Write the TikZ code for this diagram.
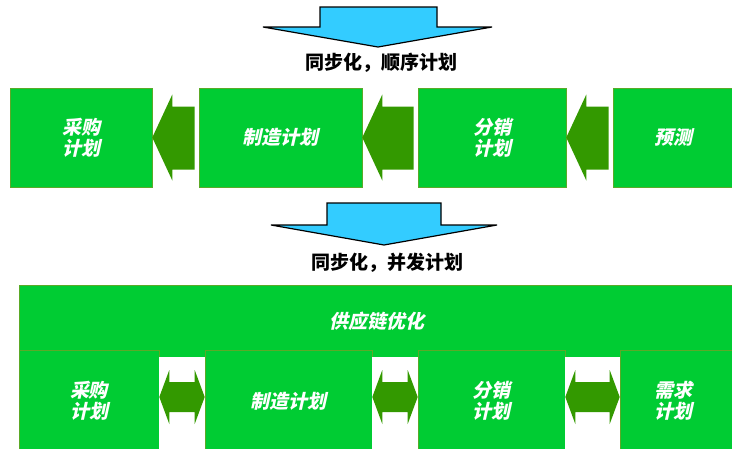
\documentclass[tikz,border=0pt]{standalone}
\usepackage{fontspec}
\newfontfamily\cjkbox[FakeSlant=0.22]{Noto Sans CJK SC}
\newfontfamily\cjklab{Noto Sans CJK SC}
\usetikzlibrary{calc}
\definecolor{boxgreen}{RGB}{0,204,51}
\definecolor{arrgreen}{RGB}{51,153,0}
\definecolor{arrcyan}{RGB}{51,204,255}
\definecolor{edgegreen}{RGB}{90,170,40}
\tikzset{
  gbox/.style={rectangle, fill=boxgreen, draw=edgegreen, line width=0.6pt, inner sep=0pt,
    text=white, align=center, font=\cjkbox\bfseries\fontsize{19}{21}\selectfont},
  arr/.style={fill=arrgreen},
  bigarr/.style={fill=arrcyan, draw=black, line width=1.2pt, line join=miter},
  lab/.style={font=\cjklab\bfseries\fontsize{19}{21}\selectfont, inner sep=0pt}
}
\begin{document}
\begin{tikzpicture}[x=1pt,y=-1pt]
\useasboundingbox[fill=white] (0,0) rectangle (732,448);
\clip (0,0) rectangle (732,448);
% top cyan arrow
\filldraw[bigarr] (320,7) -- (437,7) -- (437,27) -- (492,27) -- (378,47) -- (263,27) -- (320,27) -- cycle;
\node[lab] (lab1) at (381,63) {同步化，顺序计划};
% top row
\node[gbox, minimum width=142pt, minimum height=99pt] (a1) at (81,137.5) {采购\\计划};
\node[gbox, minimum width=163pt, minimum height=99pt] (a2) at (280.5,137.5) {制造计划};
\node[gbox, minimum width=148pt, minimum height=99pt] (a3) at (492,137.5) {分销\\计划};
\node[gbox, minimum width=132pt, minimum height=99pt, text width=120pt] (a4) at (679,137.5) {\hspace*{-12pt}预测};
\foreach \l/\r in {a1/a2,a2/a3,a3/a4}{
  \fill[arr] (\l.east) -- ($(\l.east)+(20,-43)$) -- ($(\l.east)+(20,-31)$) -- ($(\r.west)+(-4,-31)$)
     -- ($(\r.west)+(-4,32)$) -- ($(\l.east)+(20,32)$) -- ($(\l.east)+(20,43)$) -- cycle;
}
% second cyan arrow
\filldraw[bigarr] (327,203) -- (441,203) -- (441,225) -- (497,225) -- (384,245) -- (271,225) -- (327,225) -- cycle;
\node[lab] (lab2) at (387,263) {同步化，并发计划};
% bottom
\node[gbox, minimum width=726pt, minimum height=72pt, text width=700pt] (sc) at (382,321) {\hspace*{-10pt}供应链优化};
\node[gbox, minimum width=140pt, minimum height=102pt] (b1) at (89,401) {采购\\计划};
\node[gbox, minimum width=167pt, minimum height=102pt] (b2) at (288.5,401) {制造计划};
\node[gbox, minimum width=147pt, minimum height=102pt] (b3) at (491.5,401) {分销\\计划};
\node[gbox, minimum width=120pt, minimum height=102pt, text width=110pt] (b4) at (680,401) {\hspace*{-14pt}需求\\\hspace*{-14pt}计划};
\fill[white] (b1.east |- 0,357) rectangle (b2.west |- 0,460);
\fill[white] (b2.east |- 0,357) rectangle (b3.west |- 0,460);
\fill[white] (b3.east |- 0,357) rectangle (b4.west |- 0,460);
\foreach \l/\r in {b1/b2,b2/b3,b3/b4}{
  \fill[arr] ($(\l.east)+(0,-4)$) -- ($(\l.east)+(10,-31)$) -- ($(\l.east)+(10,-19)$) -- ($(\r.west)+(-10,-19)$)
     -- ($(\r.west)+(-10,-31)$) -- ($(\r.west)+(0,-4)$) -- ($(\r.west)+(-10,23)$) -- ($(\r.west)+(-10,11)$)
     -- ($(\l.east)+(10,11)$) -- ($(\l.east)+(10,23)$) -- cycle;
}
\end{tikzpicture}
\end{document}
